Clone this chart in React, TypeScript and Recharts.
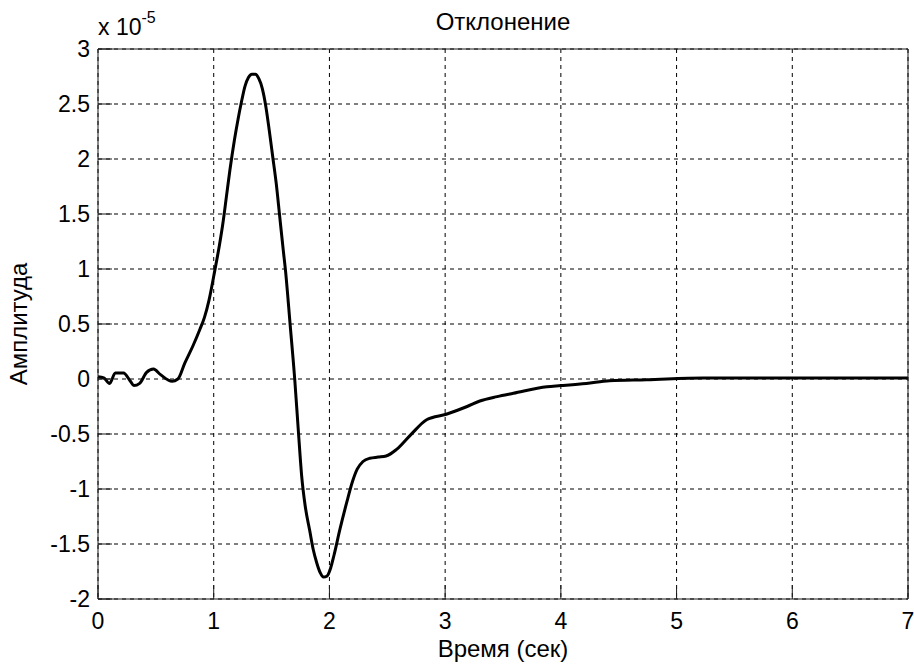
import { LineChart, Line, XAxis, YAxis, CartesianGrid, Label } from 'recharts';

// Time axis, seconds
const timeSec = [
  0, 0.05, 0.1, 0.15, 0.22, 0.28, 0.31, 0.36, 0.42, 0.48, 0.54, 0.64, 0.69, 0.75, 0.82, 0.88, 0.92, 0.96,
  1.01, 1.05, 1.08, 1.11, 1.14, 1.18, 1.21, 1.24, 1.27, 1.3, 1.33, 1.36, 1.39, 1.42, 1.45, 1.48, 1.51,
  1.54, 1.57, 1.6, 1.62, 1.66, 1.7, 1.73, 1.76, 1.79, 1.83, 1.86, 1.89, 1.92, 1.95, 1.98, 2.01, 2.04,
  2.09, 2.15, 2.2, 2.24, 2.29, 2.35, 2.42, 2.49, 2.58, 2.7, 2.84, 3.01, 3.19, 3.3, 3.45, 3.59, 3.88,
  4.0, 4.22, 4.42, 4.74, 5.23, 6.0, 7.0,
];
// Amplitude in units of 1e-5
const amplitude = [
  0.02, 0.01, -0.04, 0.055, 0.055, -0.02, -0.06, -0.04, 0.06, 0.09, 0.04, -0.02, 0.0, 0.145, 0.3, 0.45, 0.56, 0.72,
  0.99, 1.22, 1.42, 1.66, 1.9, 2.18, 2.36, 2.52, 2.66, 2.74, 2.77, 2.77, 2.73, 2.64, 2.48, 2.26, 2.02,
  1.78, 1.48, 1.18, 0.99, 0.5, 0.0, -0.45, -0.88, -1.15, -1.38, -1.55, -1.67, -1.76, -1.8, -1.79, -1.72, -1.6,
  -1.37, -1.12, -0.93, -0.82, -0.75, -0.72, -0.71, -0.7, -0.64, -0.51, -0.37, -0.32, -0.25, -0.2, -0.16, -0.13, -0.07,
  -0.06, -0.04, -0.015, -0.006, 0.01, 0.01, 0.01,
];
const xTicks = [0, 1, 2, 3, 4, 5, 6, 7];
const yTicks = [-2, -1.5, -1, -0.5, 0, 0.5, 1, 1.5, 2, 2.5, 3];

const data = timeSec.map((t, i) => ({ t, a: amplitude[i] }));

const FONT = '"Liberation Sans", Arial, sans-serif';
const INK = '#000';
const BOX = '#1a1a1a';
const TICK = -14; // MATLAB-style ticks point into the plot

export default function App() {
  return (
    <div style={{ position: 'absolute', left: 0, top: 0, background: '#fff' }}>
      <LineChart width={914} height={667} data={data} margin={{ top: 48, right: 5, bottom: 0, left: 0 }}>
        <CartesianGrid stroke="#000" strokeDasharray="4 4" strokeWidth={1} />
        <XAxis
          dataKey="t"
          type="number"
          domain={[0, 7]}
          ticks={xTicks}
          height={68}
          tickSize={TICK}
          tickMargin={28}
          stroke={BOX}
          tick={{ fill: INK, fontSize: 23, fontFamily: FONT }}
        >
          <Label
            content={(p: any) => (
              <text
                x={p.viewBox.x + p.viewBox.width / 2}
                y={657}
                textAnchor="middle"
                fontSize={24}
                fontFamily={FONT}
                fill={INK}
              >
                Время (сек)
              </text>
            )}
          />
        </XAxis>
        {/* mirrored axes close the box and carry the top/right ticks */}
        <XAxis
          xAxisId="top"
          orientation="top"
          type="number"
          domain={[0, 7]}
          ticks={xTicks}
          height={1}
          tickSize={TICK}
          tick={false}
          stroke={BOX}
        >
          <Label
            content={(p: any) => (
              <g fontFamily={FONT} fill={INK}>
                <text x={p.viewBox.x + p.viewBox.width / 2} y={p.viewBox.y - 18} textAnchor="middle" fontSize={24}>
                  Отклонение
                </text>
                <text x={p.viewBox.x} y={p.viewBox.y - 13} fontSize={23}>
                  x 10
                  <tspan dy={-12} fontSize={16}>
                    -5
                  </tspan>
                </text>
              </g>
            )}
          />
        </XAxis>
        <YAxis
          type="number"
          domain={[-2, 3]}
          ticks={yTicks}
          width={98}
          tickSize={TICK}
          tickMargin={22}
          stroke={BOX}
          tick={{ fill: INK, fontSize: 23, fontFamily: FONT }}
        >
          <Label
            content={(p: any) => {
              const cy = p.viewBox.y + p.viewBox.height / 2;
              return (
                <text
                  x={27}
                  y={cy}
                  transform={`rotate(-90, 27, ${cy})`}
                  textAnchor="middle"
                  fontSize={24}
                  fontFamily={FONT}
                  fill={INK}
                >
                  Амплитуда
                </text>
              );
            }}
          />
        </YAxis>
        <YAxis
          yAxisId="right"
          orientation="right"
          type="number"
          domain={[-2, 3]}
          ticks={yTicks}
          width={1}
          tickSize={TICK}
          tick={false}
          stroke={BOX}
        />
        <Line
          dataKey="a"
          type="monotone"
          stroke="#000"
          strokeWidth={3}
          dot={false}
          isAnimationActive={false}
        />
      </LineChart>
    </div>
  );
}
